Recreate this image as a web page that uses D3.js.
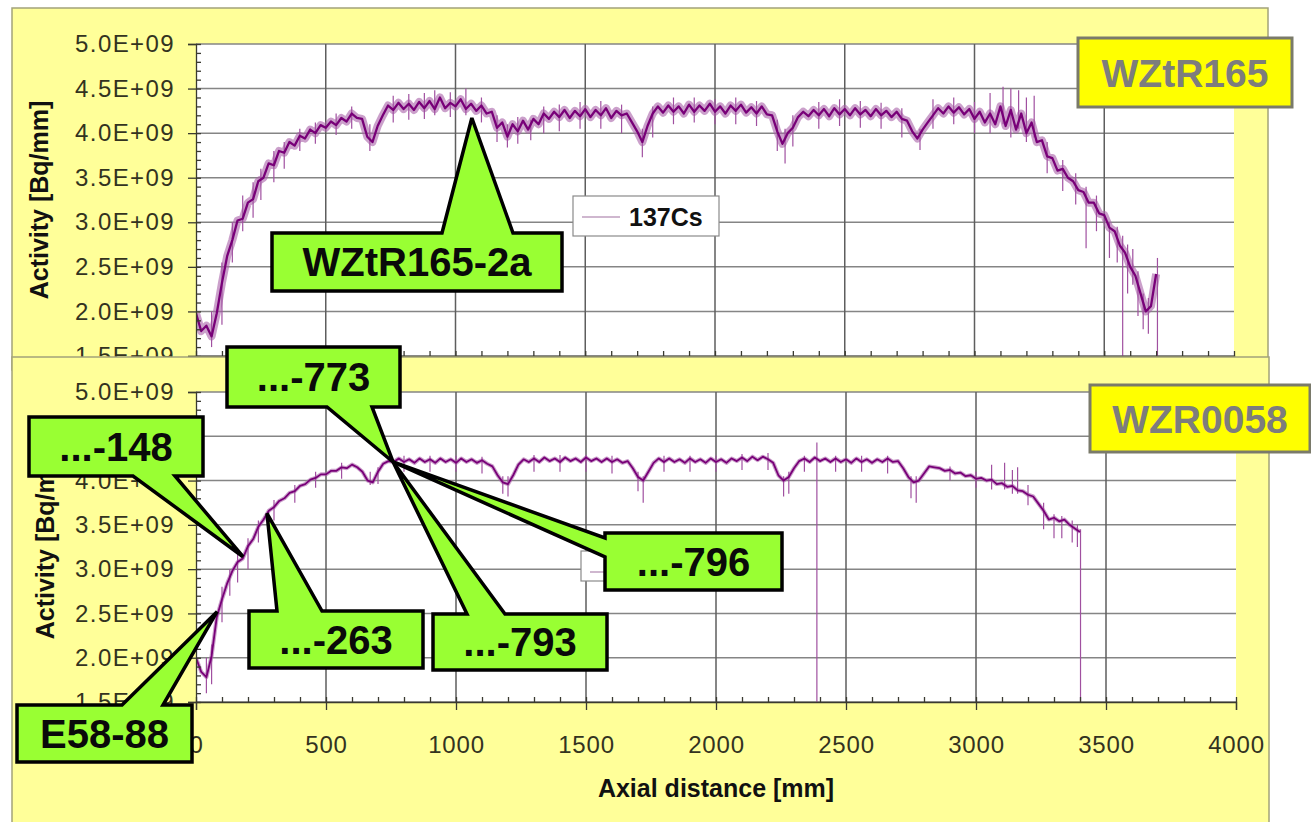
<!DOCTYPE html>
<html>
<head>
<meta charset="utf-8">
<script src="https://cdn.jsdelivr.net/npm/d3@7"></script>
<style>
body { margin: 0; background: #fff; }
text { font-family: "Liberation Sans", Arial, sans-serif; }
</style>
</head>
<body>
<div id="chart"></div>
<script>
// sampling step of the scans, mm
const stepMm = 20;

// WZtR165, activity in 1E+09 Bq/mm, one value every 20 mm from 0 mm
const topActivity = [
  1.98, 1.78, 1.84, 1.72, 1.98, 2.32, 2.62, 2.80, 3.02, 3.04,
  3.22, 3.26, 3.46, 3.50, 3.66, 3.64, 3.80, 3.78, 3.90, 3.86,
  3.97, 3.94, 4.04, 4.00, 4.09, 4.06, 4.13, 4.09, 4.17, 4.13,
  4.22, 4.17, 4.16, 3.96, 3.90, 4.08, 4.20, 4.31, 4.26, 4.34,
  4.27, 4.33, 4.26, 4.35, 4.28, 4.36, 4.27, 4.40, 4.28, 4.34,
  4.30, 4.38, 4.27, 4.33, 4.25, 4.31, 4.22, 4.24, 4.06, 4.12,
  3.96, 4.10, 4.02, 4.14, 4.04, 4.16, 4.10, 4.22, 4.16, 4.24,
  4.18, 4.26, 4.17, 4.25, 4.19, 4.27, 4.18, 4.26, 4.20, 4.28,
  4.17, 4.25, 4.20, 4.22, 4.12, 4.02, 3.90, 4.08, 4.22, 4.30,
  4.23, 4.31, 4.24, 4.30, 4.22, 4.32, 4.24, 4.31, 4.25, 4.33,
  4.24, 4.30, 4.22, 4.31, 4.25, 4.32, 4.23, 4.29, 4.22, 4.30,
  4.21, 4.20, 4.02, 3.88, 4.00, 4.06, 4.18, 4.24, 4.19, 4.26,
  4.20, 4.27, 4.19, 4.28, 4.21, 4.27, 4.20, 4.28, 4.21, 4.26,
  4.19, 4.27, 4.20, 4.25, 4.18, 4.24, 4.16, 4.14, 4.02, 3.94,
  4.04, 4.12, 4.20, 4.28, 4.22, 4.30, 4.23, 4.29, 4.21, 4.27,
  4.16, 4.24, 4.12, 4.22, 4.10, 4.30, 4.08, 4.26, 4.04, 4.22,
  4.00, 4.12, 3.90, 3.92, 3.74, 3.72, 3.58, 3.60, 3.50, 3.46,
  3.36, 3.34, 3.22, 3.22, 3.10, 3.08, 2.94, 2.90, 2.74, 2.66,
  2.50, 2.40, 2.20, 2.00, 2.06, 2.42
];

// WZR0058, activity in 1E+09 Bq/mm, one value every 20 mm from 0 mm
const bottomActivity = [
  2.00, 1.84, 1.78, 2.02, 2.46, 2.66, 2.84, 2.98, 3.08, 3.12,
  3.26, 3.34, 3.48, 3.56, 3.66, 3.70, 3.77, 3.80, 3.86, 3.88,
  3.94, 3.96, 4.01, 4.03, 4.07, 4.07, 4.11, 4.11, 4.15, 4.14,
  4.18, 4.15, 4.10, 4.00, 3.98, 4.10, 4.19, 4.22, 4.21, 4.25,
  4.21, 4.24, 4.20, 4.25, 4.21, 4.24, 4.20, 4.25, 4.21, 4.24,
  4.20, 4.25, 4.21, 4.24, 4.20, 4.23, 4.19, 4.16, 4.06, 3.98,
  3.96, 4.06, 4.18, 4.24, 4.21, 4.25, 4.21, 4.26, 4.22, 4.25,
  4.21, 4.26, 4.22, 4.25, 4.21, 4.26, 4.22, 4.25, 4.21, 4.25,
  4.21, 4.24, 4.20, 4.22, 4.14, 4.04, 4.00, 4.10, 4.20, 4.25,
  4.21, 4.25, 4.21, 4.24, 4.20, 4.25, 4.21, 4.24, 4.20, 4.25,
  4.21, 4.24, 4.20, 4.25, 4.22, 4.26, 4.22, 4.27, 4.23, 4.27,
  4.24, 4.20, 4.06, 4.00, 4.04, 4.14, 4.22, 4.25, 4.21, 4.26,
  4.22, 4.25, 4.21, 4.25, 4.21, 4.24, 4.20, 4.25, 4.21, 4.24,
  4.20, 4.24, 4.21, 4.25, 4.21, 4.22, 4.14, 4.04, 3.98, 4.00,
  4.08, 4.16, 4.15, 4.14, 4.11, 4.12, 4.08, 4.09, 4.05, 4.06,
  4.02, 4.03, 4.00, 4.01, 3.96, 3.97, 3.93, 3.94, 3.89, 3.88,
  3.84, 3.82, 3.74, 3.66, 3.56, 3.58, 3.54, 3.56, 3.50, 3.46,
  3.42
];

// single-channel spikes: [mm, low, high] in 1E+09 Bq/mm
const topSpikes = [
  [60, 1.60, 2.00], [100, 1.85, 2.55], [140, 2.55, 3.00], [180, 2.90, 3.30],
  [220, 3.05, 3.45], [250, 3.25, 3.60], [300, 3.45, 3.80], [340, 3.60, 3.90],
  [400, 3.80, 4.05], [460, 3.88, 4.12], [540, 3.98, 4.22], [600, 4.05, 4.30],
  [670, 3.80, 4.10], [760, 4.12, 4.42], [820, 4.15, 4.44], [880, 4.16, 4.45],
  [920, 4.20, 4.48], [980, 4.18, 4.46], [1040, 4.20, 4.50], [1100, 4.12, 4.40],
  [1160, 3.90, 4.20], [1200, 3.84, 4.10], [1240, 3.88, 4.18], [1290, 3.92, 4.15],
  [1340, 4.00, 4.30], [1400, 4.02, 4.32], [1480, 4.05, 4.35], [1560, 4.05, 4.36],
  [1640, 4.00, 4.32], [1720, 3.73, 4.05], [1760, 3.95, 4.30], [1840, 4.10, 4.40],
  [1920, 4.12, 4.40], [2000, 4.10, 4.38], [2080, 4.10, 4.40], [2160, 4.08, 4.36],
  [2240, 3.80, 4.15], [2270, 3.66, 4.05], [2300, 3.85, 4.20], [2400, 4.05, 4.35],
  [2480, 4.08, 4.38], [2560, 4.06, 4.36], [2640, 4.05, 4.34], [2720, 3.95, 4.28],
  [2790, 3.81, 4.05], [2840, 4.05, 4.38], [2920, 4.10, 4.40], [3000, 4.00, 4.35],
  [3060, 4.00, 4.45], [3110, 4.10, 4.52], [3140, 3.95, 4.50], [3170, 4.05, 4.48],
  [3200, 3.90, 4.40], [3230, 3.95, 4.42], [3280, 3.55, 3.90], [3340, 3.35, 3.70],
  [3390, 3.20, 3.55], [3430, 2.71, 3.40], [3470, 2.90, 3.30], [3520, 2.60, 3.00],
  [3550, 2.55, 2.95], [3571, 1.40, 2.85], [3590, 2.20, 2.75], [3610, 2.30, 2.70],
  [3630, 1.95, 2.45], [3650, 1.80, 2.20], [3670, 1.75, 2.15], [3705, 1.40, 2.60]
];
const bottomSpikes = [
  [40, 1.60, 2.00], [60, 1.70, 2.15], [100, 2.40, 2.80], [130, 2.70, 3.00],
  [160, 2.85, 3.20], [200, 3.00, 3.35], [240, 3.30, 3.55], [300, 3.55, 3.78],
  [380, 3.75, 3.95], [460, 3.92, 4.10], [560, 4.02, 4.20], [670, 3.95, 4.10],
  [700, 3.96, 4.15], [800, 4.10, 4.28], [900, 4.10, 4.28], [1000, 4.10, 4.28],
  [1100, 4.08, 4.27], [1180, 3.85, 4.05], [1200, 3.82, 4.05], [1300, 4.10, 4.29],
  [1400, 4.10, 4.29], [1500, 4.10, 4.29], [1600, 4.08, 4.28], [1700, 3.88, 4.10],
  [1720, 3.75, 4.05], [1800, 4.10, 4.28], [1900, 4.10, 4.28], [2000, 4.10, 4.28],
  [2100, 4.12, 4.30], [2200, 4.12, 4.31], [2260, 3.82, 4.05], [2280, 3.85, 4.10],
  [2340, 4.10, 4.28], [2388, 1.40, 4.43], [2460, 4.10, 4.28], [2560, 4.10, 4.28],
  [2660, 4.08, 4.28], [2750, 3.80, 4.05], [2770, 3.75, 4.05], [2900, 4.00, 4.16],
  [3000, 3.92, 4.10], [3060, 3.90, 4.18], [3110, 3.90, 4.20], [3140, 3.85, 4.12],
  [3160, 3.85, 4.15], [3200, 3.72, 3.95], [3260, 3.45, 3.75], [3300, 3.35, 3.62],
  [3330, 3.35, 3.60], [3370, 3.30, 3.55], [3390, 3.25, 3.50], [3402, 1.40, 3.45]
];

const yTickValues = [1.5, 2.0, 2.5, 3.0, 3.5, 4.0, 4.5, 5.0];
const xTickValues = [0, 500, 1000, 1500, 2000, 2500, 3000, 3500, 4000];
const seriesName = "137Cs";

const width = 1311, height = 822;
const purple = "#780078";

const svg = d3.select("#chart").append("svg")
    .attr("width", width)
    .attr("height", height);

svg.append("rect").attr("width", width).attr("height", height).attr("fill", "#fff");

function drawPanel(p) {
    const g = svg.append("g");

    g.append("rect")
        .attr("x", p.frame[0]).attr("y", p.frame[1])
        .attr("width", p.frame[2]).attr("height", p.frame[3])
        .attr("fill", "#ffff99")
        .attr("stroke", "#a3a37a")
        .attr("stroke-width", 1.5);

    const x = d3.scaleLinear().domain([0, 4000]).range([p.left, p.right]);
    const y = d3.scaleLinear().domain([1.5, 5.0]).range([p.bottom, p.top]);

    g.append("rect")
        .attr("x", p.left).attr("y", p.top)
        .attr("width", p.right - p.left).attr("height", p.bottom - p.top)
        .attr("fill", "#fff");

    // grid
    g.append("g").selectAll("line")
        .data(yTickValues)
        .enter().append("line")
            .attr("x1", p.left).attr("x2", p.right)
            .attr("y1", function(d) { return y(d); })
            .attr("y2", function(d) { return y(d); })
            .attr("stroke", "#858585")
            .attr("stroke-width", 1.5);

    g.append("g").selectAll("line")
        .data(xTickValues.filter(function(d) { return d > 0 && d < 4000; }))
        .enter().append("line")
            .attr("x1", function(d) { return x(d); })
            .attr("x2", function(d) { return x(d); })
            .attr("y1", p.top).attr("y2", p.bottom)
            .attr("stroke", "#5e5e5e")
            .attr("stroke-width", 1.5);

    // data
    const clipId = "clip" + p.name;
    g.append("clipPath").attr("id", clipId)
        .append("rect")
        .attr("x", p.left).attr("y", p.top)
        .attr("width", p.right - p.left).attr("height", p.bottom - p.top);

    const data = g.append("g").attr("clip-path", "url(#" + clipId + ")");

    const line = d3.line()
        .x(function(d, i) { return x(i * stepMm); })
        .y(function(d) { return y(d); });

    data.append("path")
        .datum(p.series)
        .attr("d", line)
        .attr("fill", "none")
        .attr("stroke", "#a860a8")
        .attr("stroke-width", p.band)
        .attr("stroke-opacity", 0.6)
        .attr("stroke-linejoin", "round");

    data.selectAll(".spike")
        .data(p.spikes)
        .enter().append("line")
            .attr("class", "spike")
            .attr("x1", function(d) { return x(d[0]); })
            .attr("x2", function(d) { return x(d[0]); })
            .attr("y1", function(d) { return y(d[1]); })
            .attr("y2", function(d) { return y(d[2]); })
            .attr("stroke", "#a050a0")
            .attr("stroke-width", 1.2);

    data.append("path")
        .datum(p.series)
        .attr("d", line)
        .attr("fill", "none")
        .attr("stroke", purple)
        .attr("stroke-width", p.core)
        .attr("stroke-linejoin", "round");

    // axes
    const fmt = function(d) { return d.toFixed(1) + "E+09"; };

    const yAxis = g.append("g")
        .attr("transform", "translate(" + p.left + ",0)")
        .call(d3.axisLeft(y).tickValues(yTickValues).tickSize(8).tickPadding(13).tickFormat(fmt));
    g.append("g")
        .attr("transform", "translate(" + p.left + ",0)")
        .call(d3.axisRight(y).tickValues(d3.range(15, 51).map(function(v) { return v / 10; }))
            .tickSize(5).tickFormat(""))
        .call(function(a) { a.select(".domain").remove(); });

    // the upper panel's distance labels sit under the lower panel
    const xAxis = g.append("g")
        .attr("transform", "translate(0," + p.bottom + ")")
        .call(d3.axisBottom(x).tickValues(xTickValues).tickSize(8).tickPadding(26)
            .tickFormat(p.xLabels ? d3.format("d") : ""));
    g.append("g")
        .attr("transform", "translate(0," + p.bottom + ")")
        .call(d3.axisTop(x).tickValues(d3.range(0, 4001, 100)).tickSize(5).tickFormat(""))
        .call(function(a) { a.select(".domain").remove(); });

    g.selectAll(".domain, .tick line").attr("stroke", "#3a3a30").attr("stroke-width", 1.3);
    yAxis.selectAll("text")
        .style("font-size", "24px")
        .style("letter-spacing", "1.4px")
        .attr("fill", "#33331f");
    xAxis.selectAll("text")
        .style("font-size", "24px")
        .style("letter-spacing", "0.8px")
        .attr("fill", "#33331f");

    g.append("text")
        .attr("transform", "translate(" + p.titleX + "," + p.titleY + ") rotate(-90)")
        .attr("text-anchor", "middle")
        .style("font-size", "25px")
        .style("font-weight", "bold")
        .attr("fill", "#111")
        .text("Activity [Bq/mm]");

    // legend
    const lg = g.append("g");
    lg.append("rect")
        .attr("x", p.legend[0]).attr("y", p.legend[1])
        .attr("width", p.legend[2]).attr("height", p.legend[3])
        .attr("fill", "#fff")
        .attr("stroke", "#8a8a8a")
        .attr("stroke-width", 1.2);
    lg.append("line")
        .attr("x1", p.legend[0] + 9).attr("x2", p.legend[0] + 47)
        .attr("y1", p.legend[1] + 21).attr("y2", p.legend[1] + 21)
        .attr("stroke", "#a070a0")
        .attr("stroke-width", 1.2);
    if (p.legendText) {
        lg.append("text")
            .attr("x", p.legend[0] + 56).attr("y", p.legend[1] + 30)
            .style("font-size", "25px")
            .style("font-weight", "bold")
            .attr("fill", "#111")
            .text(seriesName);
    }

    // sample tag
    g.append("rect")
        .attr("x", p.tag[0]).attr("y", p.tag[1])
        .attr("width", p.tag[2] - p.tag[0]).attr("height", p.tag[3] - p.tag[1])
        .attr("fill", "#ffff00")
        .attr("stroke", "#7a7a6a")
        .attr("stroke-width", 3);
    g.append("text")
        .attr("x", (p.tag[0] + p.tag[2]) / 2)
        .attr("y", (p.tag[1] + p.tag[3]) / 2 + 14)
        .attr("text-anchor", "middle")
        .style("font-size", "39px")
        .style("font-weight", "bold")
        .attr("fill", "#7d7d7d")
        .text(p.tagText);

    return { x: x, y: y };
}

const topPanel = drawPanel({
    name: "top",
    frame: [12, 8, 1256, 362],
    left: 196, right: 1234, top: 44, bottom: 356,
    titleX: 48, titleY: 200,
    series: topActivity, spikes: topSpikes, band: 8, core: 2.3,
    legend: [573, 196, 146, 40], legendText: true,
    tag: [1078, 38, 1292, 107], tagText: "WZtR165",
    xLabels: false
});

const bottomPanel = drawPanel({
    name: "bottom",
    frame: [12, 357, 1257, 470],
    left: 196, right: 1236, top: 392, bottom: 702,
    titleX: 54, titleY: 540,
    series: bottomActivity, spikes: bottomSpikes, band: 4, core: 1.8,
    legend: [581, 551, 146, 30], legendText: false,
    tag: [1090, 385, 1310, 452], tagText: "WZR0058",
    xLabels: true
});

svg.append("text")
    .attr("x", 716).attr("y", 797)
    .attr("text-anchor", "middle")
    .style("font-size", "25px")
    .style("font-weight", "bold")
    .attr("fill", "#111")
    .text("Axial distance [mm]");

// callouts: box [x0,y0,x1,y1], pointer side, pointer base along that side, tip in data units
const callouts = [
    { text: "WZtR165-2a", panel: topPanel, box: [272, 233, 562, 291], side: "top", base: [442, 513], tip: [1063, 4.17] },
    { text: "...-773", panel: bottomPanel, box: [227, 347, 400, 407], side: "bottom", base: [327, 372], tip: [758, 4.21] },
    { text: "...-796", panel: bottomPanel, box: [605, 533, 782, 590], side: "left", base: [538, 557], tip: [758, 4.21] },
    { text: "...-793", panel: bottomPanel, box: [433, 614, 607, 670], side: "top", base: [467, 505], tip: [758, 4.21] },
    { text: "...-148", panel: bottomPanel, box: [29, 417, 203, 476], side: "bottom", base: [133, 175], tip: [181, 3.14] },
    { text: "...-263", panel: bottomPanel, box: [249, 611, 423, 668], side: "top", base: [277, 322], tip: [273, 3.63] },
    { text: "E58-88", panel: bottomPanel, box: [17, 705, 192, 762], side: "top", base: [122, 163], tip: [81, 2.52] }
];

function calloutPath(c) {
    const b = c.box;
    const tx = c.panel.x(c.tip[0]), ty = c.panel.y(c.tip[1]);
    const p = d3.path();
    if (c.side === "top") {
        p.moveTo(b[0], b[1]); p.lineTo(c.base[0], b[1]); p.lineTo(tx, ty); p.lineTo(c.base[1], b[1]);
        p.lineTo(b[2], b[1]); p.lineTo(b[2], b[3]); p.lineTo(b[0], b[3]);
    } else if (c.side === "bottom") {
        p.moveTo(b[0], b[1]); p.lineTo(b[2], b[1]); p.lineTo(b[2], b[3]); p.lineTo(c.base[1], b[3]);
        p.lineTo(tx, ty); p.lineTo(c.base[0], b[3]); p.lineTo(b[0], b[3]);
    } else {
        p.moveTo(b[0], b[1]); p.lineTo(b[2], b[1]); p.lineTo(b[2], b[3]); p.lineTo(b[0], b[3]);
        p.lineTo(b[0], c.base[1]); p.lineTo(tx, ty); p.lineTo(b[0], c.base[0]);
    }
    p.closePath();
    return p.toString();
}

const cg = svg.append("g");
callouts.forEach(function(c) {
    cg.append("path")
        .attr("d", calloutPath(c))
        .attr("fill", "#99ff33")
        .attr("stroke", "#000")
        .attr("stroke-width", 3.5)
        .attr("stroke-linejoin", "miter")
        .attr("stroke-miterlimit", 3);
    cg.append("text")
        .attr("x", (c.box[0] + c.box[2]) / 2)
        .attr("y", (c.box[1] + c.box[3]) / 2 + 14)
        .attr("text-anchor", "middle")
        .style("font-size", "40px")
        .style("font-weight", "bold")
        .attr("fill", "#0a0a0a")
        .text(c.text);
});
</script>
</body>
</html>
